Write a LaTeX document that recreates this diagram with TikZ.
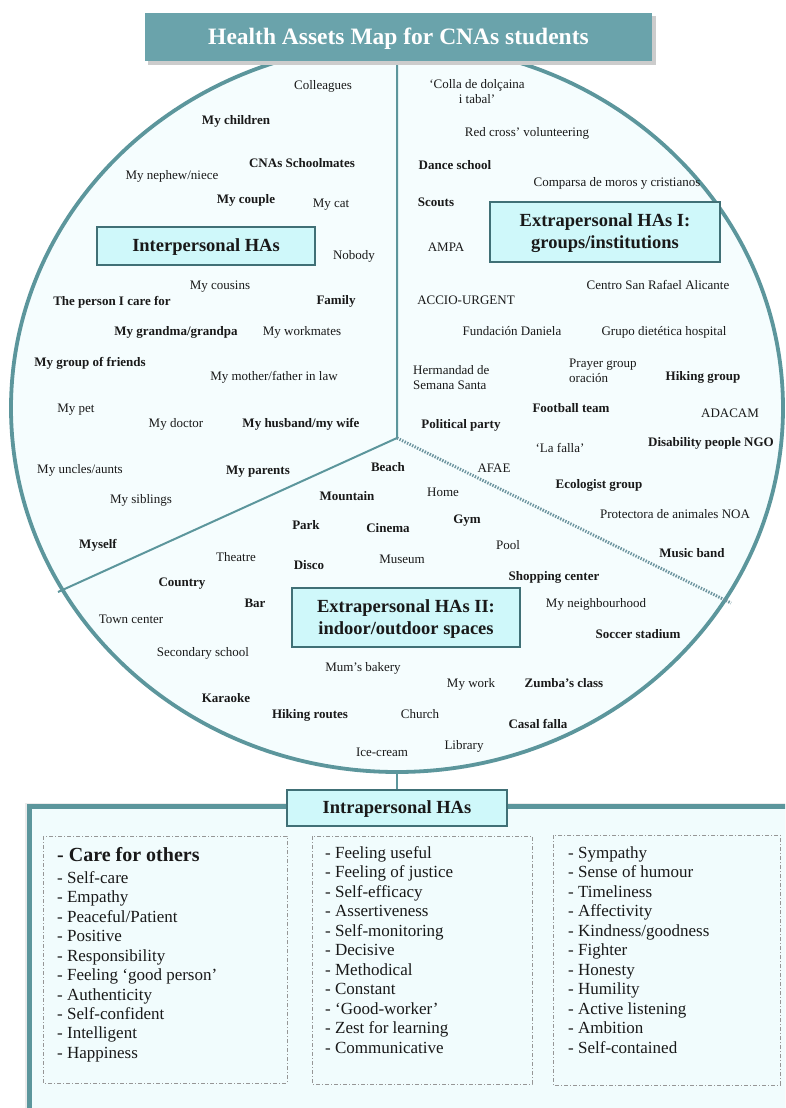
\documentclass[tikz,border=0pt]{standalone}
\usepackage{fontspec}
\setmainfont{Liberation Serif}
\definecolor{tealline}{RGB}{92,150,156}
\definecolor{titlefill}{RGB}{106,163,171}
\definecolor{labfill}{RGB}{207,248,250}
\definecolor{labdraw}{RGB}{64,112,118}
\definecolor{circfill}{RGB}{245,253,254}
\definecolor{boxfill}{RGB}{241,252,253}
\definecolor{txt}{RGB}{25,25,25}
\definecolor{dotcol}{RGB}{108,148,158}
\definecolor{dashgray}{RGB}{150,150,150}
\tikzset{
  it/.style={font=\fontsize{13}{15}\selectfont, text=txt, inner sep=0pt, anchor=mid, yshift=-2pt},
  itb/.style={it, font=\fontsize{13}{15}\selectfont\bfseries},
  it2/.style={font=\fontsize{13}{15}\selectfont, text=txt, inner sep=0pt, align=center, yshift=-1pt},
  labbox/.style={draw=labdraw, line width=2.5pt, fill=labfill, text=txt,
    font=\fontsize{18.5}{22}\selectfont\bfseries, align=center, inner sep=0pt},
  labtext/.style={text=txt, font=\fontsize{18.5}{22}\selectfont\bfseries, align=center, inner sep=0pt, yshift=-1.5pt},
  titlebox/.style={fill=titlefill, minimum width=507pt, minimum height=48pt, inner sep=0pt},
  titletext/.style={text=white, font=\fontsize{23.5}{26}\selectfont\bfseries, inner sep=0pt, yshift=-2pt},
  divline/.style={draw=tealline, line width=2pt},
  dotline/.style={draw=dotcol, line width=3pt, dash pattern=on 1.4pt off 1.4pt},
  dashbox/.style={draw=dashgray, line width=0.8pt, dash pattern=on 4pt off 2pt on 1pt off 2pt},
  li/.style={font=\fontsize{17}{19}\selectfont, text=txt, inner sep=0pt, anchor=mid west, yshift=-3pt},
  lib/.style={font=\fontsize{20}{22}\selectfont\bfseries, text=txt, inner sep=0pt, anchor=mid west, yshift=-3pt}
}
\begin{document}
\begin{tikzpicture}[x=1pt,y=-1pt]
\useasboundingbox (0,0) rectangle (785,1108);
\clip (0,0) rectangle (785,1108);
\fill[white] (0,0) rectangle (785,1108);
% circle
\draw[draw=tealline, line width=3.8pt, fill=circfill] (397,408) ellipse [x radius=386pt, y radius=364pt];
% dividers
\coordinate (vt) at (397,61);
\coordinate (j) at (397,438);
\coordinate (ll) at (58,592);
\coordinate (rr) at (731,603);
\coordinate (cb) at (397,772);
\draw[divline] (vt) -- (j) -- (ll);
\draw[dotline] (j) -- (rr);
% title
\fill[black!20] (148,16) rectangle (656,65);
\node[titlebox] (title) at (398.5,37) {};
\node[titletext] (titletxt) at (title.center) {Health Assets Map for CNAs students};
% Interpersonal
\node[it] (t1) at (323,85) {Colleagues};
\node[itb] (t2) at (236,120) {My children};
\node[itb] (t3) at (302,163) {CNAs Schoolmates};
\node[it] (t4) at (172,175) {My nephew/niece};
\node[itb] (t5) at (246,199) {My couple};
\node[it] (t6) at (331,203) {My cat};
\node[it] (t7) at (354,255) {Nobody};
\node[it] (t8) at (220,285) {My cousins};
\node[itb] (t9) at (112,301) {The person I care for};
\node[itb] (t10) at (336,300) {Family};
\node[itb] (t11) at (176,331) {My grandma/grandpa};
\node[it] (t12) at (302,331) {My workmates};
\node[itb] (t13) at (90,362) {My group of friends};
\node[it] (t14) at (274,376) {My mother/father in law};
\node[it] (t15) at (76,408) {My pet};
\node[it] (t16) at (176,423) {My doctor};
\node[itb] (t17) at (301,423) {My husband/my wife};
\node[it] (t18) at (80,469) {My uncles/aunts};
\node[itb] (t19) at (258,470) {My parents};
\node[it] (t20) at (141,499) {My siblings};
\node[itb] (t21) at (98,544) {Myself};
% Extrapersonal I
\node[it2] (g1) at (477,91) {‘Colla de dolçaina\\ i tabal’};
\node[it] (g2) at (527,132) {Red cross’ volunteering};
\node[itb] (g3) at (455,165) {Dance school};
\node[it] (g4) at (617,182) {Comparsa de moros y cristianos};
\node[itb] (g5) at (436,202) {Scouts};
\node[it] (g6) at (446,247) {AMPA};
\node[it] (g7) at (658,285) {Centro San Rafael Alicante};
\node[it] (g8) at (466,300) {ACCIO-URGENT};
\node[it] (g9) at (512,331) {Fundación Daniela};
\node[it] (g10) at (664,331) {Grupo dietética hospital};
\node[it2, align=left, anchor=west] (g11) at (413,377) {Hermandad de\\Semana Santa};
\node[it2, align=left, anchor=west] (g12) at (569,370) {Prayer group\\oración};
\node[itb] (g13) at (703,376) {Hiking group};
\node[itb] (g14) at (571,408) {Football team};
\node[it] (g15) at (730,413) {ADACAM};
\node[itb] (g16) at (461,424) {Political party};
\node[itb] (g17) at (711,442) {Disability people NGO};
\node[it] (g18) at (560,448) {‘La falla’};
\node[it] (g19) at (494,468) {AFAE};
\node[itb] (g20) at (599,484) {Ecologist group};
\node[it] (g21) at (675,514) {Protectora de animales NOA};
\node[itb] (g22) at (692,553) {Music band};
% Extrapersonal II
\node[itb] (s1) at (388,467) {Beach};
\node[itb] (s2) at (347,496) {Mountain};
\node[it] (s3) at (443,492) {Home};
\node[itb] (s4) at (306,525) {Park};
\node[itb] (s5) at (388,528) {Cinema};
\node[itb] (s6) at (467,519) {Gym};
\node[it] (s7) at (508,545) {Pool};
\node[it] (s8) at (236,557) {Theatre};
\node[itb] (s9) at (309,565) {Disco};
\node[it] (s10) at (402,559) {Museum};
\node[itb] (s11) at (554,576) {Shopping center};
\node[itb] (s12) at (182,582) {Country};
\node[itb] (s13) at (255,603) {Bar};
\node[it] (s14) at (596,603) {My neighbourhood};
\node[it] (s15) at (131,619) {Town center};
\node[itb] (s16) at (638,634) {Soccer stadium};
\node[it] (s17) at (203,652) {Secondary school};
\node[it] (s18) at (363,667) {Mum’s bakery};
\node[it] (s19) at (471,683) {My work};
\node[itb] (s20) at (564,683) {Zumba’s class};
\node[itb] (s21) at (226,698) {Karaoke};
\node[itb] (s22) at (310,714) {Hiking routes};
\node[it] (s23) at (420,714) {Church};
\node[itb] (s24) at (538,724) {Casal falla};
\node[it] (s25) at (464,745) {Library};
\node[it] (s26) at (382,752) {Ice-cream};
% section labels
\node[labbox, minimum width=218pt, minimum height=38pt] (inter) at (206,246) {};
\node[labtext] (intertxt) at (inter.center) {Interpersonal HAs};
\node[labbox, minimum width=230pt, minimum height=60pt] (extra1) at (605,232) {};
\node[labtext] (extra1txt) at (extra1.center) {Extrapersonal HAs I:\\groups/institutions};
\node[labbox, minimum width=228pt, minimum height=59pt] (extra2) at (406,617.5) {};
\node[labtext] (extra2txt) at (extra2.center) {Extrapersonal HAs II:\\indoor/outdoor spaces};
% bottom panel
\fill[black!8] (25,803) rectangle (800,1130);
\draw[draw=tealline, line width=5pt, fill=boxfill] (29,806) rectangle (810,1140);
\node[labbox, minimum width=220pt, minimum height=36pt] (intra) at (397,808) {};
\node[labtext] (intratxt) at (intra.center) {Intrapersonal HAs};
\draw[divline, line width=2.5pt] (cb) -- (intra.north);
\draw[dashbox] (43,836) rectangle (287,1083);
\draw[dashbox] (312,836) rectangle (532,1084);
\draw[dashbox] (553,835) rectangle (780,1085);
\node[lib] (c0) at (57,856) {- Care for others};
\foreach \t [count=\i] in {Self-care,Empathy,Peaceful/Patient,Positive,Responsibility,Feeling ‘good person’,Authenticity,Self-confident,Intelligent,Happiness}
  \node[li] (c\i) at (57,{878+19.45*(\i-1)}) {- \t};
\foreach \t [count=\i] in {Feeling useful,Feeling of justice,Self-efficacy,Assertiveness,Self-monitoring,Decisive,Methodical,Constant,‘Good-worker’,Zest for learning,Communicative}
  \node[li] (d\i) at (325,{853+19.5*(\i-1)}) {- \t};
\foreach \t [count=\i] in {Sympathy,Sense of humour,Timeliness,Affectivity,Kindness/goodness,Fighter,Honesty,Humility,Active listening,Ambition,Self-contained}
  \node[li] (e\i) at (568,{853+19.5*(\i-1)}) {- \t};
\end{tikzpicture}
\end{document}
